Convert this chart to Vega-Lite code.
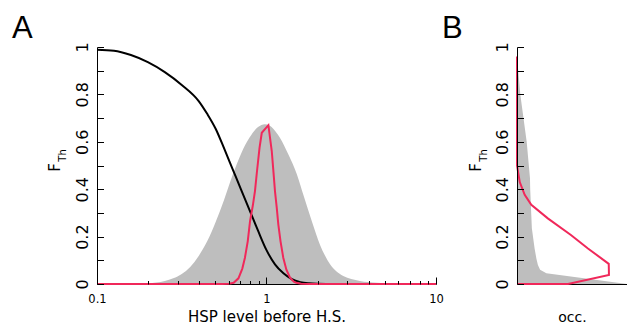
{
  "$schema": "https://vega.github.io/schema/vega-lite/v6.json",
  "autosize": {"type": "pad"},
  "padding": {"left": 12, "top": 12, "right": 0, "bottom": 0},
  "background": "white",
  "bounds": "flush",
  "spacing": 81,
  "config": {
    "view": {"stroke": null},
    "font": "DejaVu Sans",
    "axis": {"labelFont": "DejaVu Sans", "titleFont": "DejaVu Sans", "labelColor": "black", "titleColor": "black", "titleFontWeight": "normal", "domainColor": "black", "tickColor": "black", "grid": false},
    "title": {"font": "Liberation Sans Narrow, Liberation Sans", "fontSize": 31, "fontWeight": "normal", "anchor": "start", "frame": "group", "color": "black", "baseline": "alphabetic", "offset": -3}
  },
  "datasets": {
    "grayA": [
      {"x": 0.1, "v": 0}, {"x": 0.1585, "v": 0.001}, {"x": 0.1995, "v": 0.003}, {"x": 0.2239, "v": 0.0065},
      {"x": 0.2512, "v": 0.013}, {"x": 0.2818, "v": 0.024}, {"x": 0.3162, "v": 0.042}, {"x": 0.3548, "v": 0.072},
      {"x": 0.3981, "v": 0.118}, {"x": 0.4467, "v": 0.18}, {"x": 0.5012, "v": 0.262}, {"x": 0.5623, "v": 0.356},
      {"x": 0.631, "v": 0.46}, {"x": 0.7079, "v": 0.55}, {"x": 0.7943, "v": 0.618}, {"x": 0.8913, "v": 0.662},
      {"x": 0.9772, "v": 0.674}, {"x": 1.047, "v": 0.668}, {"x": 1.096, "v": 0.655}, {"x": 1.148, "v": 0.637},
      {"x": 1.2, "v": 0.617}, {"x": 1.349, "v": 0.545}, {"x": 1.51, "v": 0.463}, {"x": 1.66, "v": 0.37},
      {"x": 1.849, "v": 0.266}, {"x": 2.07, "v": 0.165}, {"x": 2.213, "v": 0.12}, {"x": 2.371, "v": 0.083},
      {"x": 2.57, "v": 0.055}, {"x": 2.838, "v": 0.034}, {"x": 3.162, "v": 0.021}, {"x": 3.556, "v": 0.013},
      {"x": 3.981, "v": 0.008}, {"x": 4.467, "v": 0.005}, {"x": 5.623, "v": 0.002}, {"x": 7.079, "v": 0}, {"x": 10, "v": 0}
    ],
    "blackA": [
      {"x": 0.1, "v": 0.988}, {"x": 0.1259, "v": 0.984}, {"x": 0.1585, "v": 0.966}, {"x": 0.1995, "v": 0.936},
      {"x": 0.2512, "v": 0.894}, {"x": 0.3162, "v": 0.84}, {"x": 0.3981, "v": 0.772}, {"x": 0.4467, "v": 0.718},
      {"x": 0.5012, "v": 0.655}, {"x": 0.5623, "v": 0.572}, {"x": 0.631, "v": 0.485}, {"x": 0.7079, "v": 0.398},
      {"x": 0.7943, "v": 0.312}, {"x": 0.8913, "v": 0.225}, {"x": 1.0, "v": 0.143}, {"x": 1.122, "v": 0.083},
      {"x": 1.259, "v": 0.045}, {"x": 1.413, "v": 0.02}, {"x": 1.585, "v": 0.008}, {"x": 1.778, "v": 0.003},
      {"x": 1.995, "v": 0.001}, {"x": 2.512, "v": 0}, {"x": 10, "v": 0}
    ],
    "redA": [
      {"x": 0.1, "v": 0}, {"x": 0.55, "v": 0}, {"x": 0.6, "v": 0.001}, {"x": 0.64, "v": 0.005},
      {"x": 0.683, "v": 0.024}, {"x": 0.72, "v": 0.065}, {"x": 0.746, "v": 0.111}, {"x": 0.775, "v": 0.18},
      {"x": 0.8, "v": 0.266}, {"x": 0.83, "v": 0.33}, {"x": 0.855, "v": 0.392}, {"x": 0.88, "v": 0.48},
      {"x": 0.91, "v": 0.575}, {"x": 0.938, "v": 0.638}, {"x": 1.026, "v": 0.67}, {"x": 1.074, "v": 0.561},
      {"x": 1.1, "v": 0.47}, {"x": 1.122, "v": 0.392}, {"x": 1.15, "v": 0.32}, {"x": 1.174, "v": 0.252},
      {"x": 1.21, "v": 0.18}, {"x": 1.256, "v": 0.111}, {"x": 1.31, "v": 0.06}, {"x": 1.377, "v": 0.027},
      {"x": 1.45, "v": 0.01}, {"x": 1.5, "v": 0.005}, {"x": 1.6, "v": 0.001}, {"x": 1.8, "v": 0}, {"x": 10, "v": 0}
    ],
    "grayB": [
      {"v": 0, "occ": 1.0}, {"v": 0.045, "occ": 0.267}, {"v": 0.06, "occ": 0.21}, {"v": 0.08, "occ": 0.19},
      {"v": 0.108, "occ": 0.176}, {"v": 0.15, "occ": 0.16}, {"v": 0.235, "occ": 0.135}, {"v": 0.29, "occ": 0.13},
      {"v": 0.4, "occ": 0.12}, {"v": 0.446, "occ": 0.118}, {"v": 0.6, "occ": 0.088}, {"v": 0.8, "occ": 0.03},
      {"v": 0.96, "occ": 0}
    ],
    "redB": [
      {"i": 1, "occ": 0, "v": 0.96}, {"i": 2, "occ": 0, "v": 0.5}, {"i": 3, "occ": 0.025, "v": 0.43},
      {"i": 4, "occ": 0.07, "v": 0.376}, {"i": 5, "occ": 0.13, "v": 0.334}, {"i": 6, "occ": 0.28, "v": 0.277},
      {"i": 7, "occ": 0.49, "v": 0.207}, {"i": 8, "occ": 0.645, "v": 0.15}, {"i": 9, "occ": 0.834, "v": 0.085},
      {"i": 10, "occ": 0.836, "v": 0.038}, {"i": 11, "occ": 0.464, "v": 0}, {"i": 12, "occ": 0, "v": 0}
    ]
  },
  "hconcat": [
    {
      "width": 339,
      "height": 237,
      "title": {"text": "A", "dx": -85},
      "layer": [
        {
          "data": {"name": "grayA"},
          "mark": {"type": "area", "color": "#BEBEBE", "interpolate": "monotone"},
          "encoding": {
            "x": {"field": "x", "type": "quantitative", "scale": {"type": "log", "domain": [0.1, 10], "nice": false},
              "axis": {"orient": "bottom", "values": [0.1, 1, 10], "title": "HSP level before H.S.", "tickSize": -7, "tickWidth": 1, "domain": false,
                "labelFontSize": 11.5, "labelPadding": 25, "labelBaseline": "alphabetic", "labelFlush": false, "labelOverlap": false,
                "labelExpr": "format(datum.value, '~g')", "zindex": 1, "titleFontSize": 15, "titleY": 37, "titleBaseline": "alphabetic"}},
            "y": {"field": "v", "type": "quantitative", "scale": {"domain": [0, 1], "nice": false},
              "axis": {"orient": "left", "values": [0, 0.1, 0.2, 0.3, 0.4, 0.5, 0.6, 0.7, 0.8, 0.9, 1], "title": "F", "titleFontSize": 15,
                "titleX": -38, "titleY": 120, "titleAngle": -90, "titleAlign": "center", "titleBaseline": "alphabetic",
                "tickSize": -6.5, "tickWidth": 1, "labelAngle": -90, "labelAlign": "center", "labelBaseline": "alphabetic", "labelPadding": 16,
                "labelFontSize": 16, "labelFlush": false, "labelOverlap": false,
                "labelExpr": "round(datum.value * 10) % 2 == 0 ? format(datum.value, '~g') : ''", "domain": true, "zindex": 1}}
          }
        },
        {
          "data": {"name": "blackA"},
          "mark": {"type": "line", "color": "black", "strokeWidth": 2, "interpolate": "monotone"},
          "encoding": {
            "x": {"field": "x", "type": "quantitative",
              "axis": {"orient": "bottom", "values": [0.2, 0.3, 0.4, 0.5, 0.6, 0.7, 0.8, 0.9, 2, 3, 4, 5, 6, 7, 8, 9], "title": null, "labels": false, "domain": false, "tickSize": -3.5, "tickWidth": 1, "zindex": 1}},
            "y": {"field": "v", "type": "quantitative",
              "axis": {"orient": "left", "title": "Th", "titleFontSize": 10, "titleX": -32, "titleY": 108, "titleAngle": -90, "titleAlign": "center", "titleBaseline": "alphabetic", "labels": false, "ticks": false, "domain": false}}
          }
        },
        {
          "data": {"name": "redA"},
          "mark": {"type": "line", "color": "#F0285A", "strokeWidth": 2},
          "encoding": {
            "x": {"field": "x", "type": "quantitative",
              "axis": {"orient": "bottom", "title": null, "labels": false, "ticks": false, "domain": true, "zindex": 0}},
            "y": {"field": "v", "type": "quantitative", "axis": null}
          }
        }
      ],
      "resolve": {"axis": {"x": "independent", "y": "independent"}}
    },
    {
      "width": 110,
      "height": 237,
      "title": {"text": "B", "dx": -75},
      "layer": [
        {
          "data": {"name": "grayB"},
          "mark": {"type": "area", "orient": "horizontal", "color": "#BEBEBE"},
          "encoding": {
            "y": {"field": "v", "type": "quantitative", "scale": {"domain": [0, 1], "nice": false},
              "axis": {"orient": "left", "values": [0, 0.1, 0.2, 0.3, 0.4, 0.5, 0.6, 0.7, 0.8, 0.9, 1], "title": "F", "titleFontSize": 15,
                "titleX": -37, "titleY": 120, "titleAngle": -90, "titleAlign": "center", "titleBaseline": "alphabetic",
                "tickSize": -6.5, "tickWidth": 1, "labelAngle": -90, "labelAlign": "center", "labelBaseline": "alphabetic", "labelPadding": 16,
                "labelFontSize": 16, "labelFlush": false, "labelOverlap": false,
                "labelExpr": "round(datum.value * 10) % 2 == 0 ? format(datum.value, '~g') : ''", "domain": true, "zindex": 1}},
            "x": {"field": "occ", "type": "quantitative", "scale": {"domain": [0, 1], "nice": false},
              "axis": {"orient": "bottom", "title": "occ.", "titleFontSize": 14, "titleY": 37, "titleBaseline": "alphabetic", "labels": false, "ticks": false, "domain": true, "zindex": 0}}
          }
        },
        {
          "data": {"name": "redB"},
          "mark": {"type": "line", "color": "#F0285A", "strokeWidth": 2},
          "encoding": {
            "x": {"field": "occ", "type": "quantitative", "axis": null},
            "y": {"field": "v", "type": "quantitative",
              "axis": {"orient": "left", "title": "Th", "titleFontSize": 10, "titleX": -31, "titleY": 108, "titleAngle": -90, "titleAlign": "center", "titleBaseline": "alphabetic", "labels": false, "ticks": false, "domain": false}},
            "order": {"field": "i", "type": "quantitative"}
          }
        }
      ],
      "resolve": {"axis": {"x": "independent", "y": "independent"}}
    }
  ]
}
